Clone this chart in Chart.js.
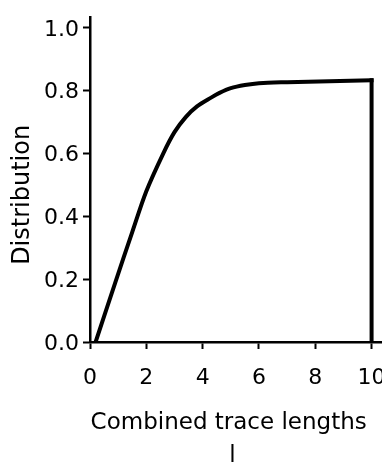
<!DOCTYPE html>
<html>
<head>
<meta charset="utf-8">
<script src="https://cdn.jsdelivr.net/npm/chart.js@4.4.1/dist/chart.umd.min.js"></script>
<style>
  html, body { margin: 0; padding: 0; background: #fff; }
  canvas { display: block; }
</style>
</head>
<body>
<canvas id="distChart" width="382" height="468"></canvas>
<script>
// combined trace length vs. distribution
const traceLength  = [0.2, 0.9, 1.5, 2.0, 2.6, 3.0, 3.4, 3.8, 4.3, 4.6, 5.0, 5.5, 6.0, 7.0, 8.5, 10];
const distribution = [0, 0.19, 0.35, 0.48, 0.60, 0.668, 0.716, 0.75, 0.778, 0.793, 0.808, 0.818, 0.824, 0.827, 0.83, 0.833];
// closing drop at the end of the range
const dropX = [10, 10];
const dropY = [0.833, 0];

const xTicks = [0, 2, 4, 6, 8, 10];
const yTicks = [0, 0.2, 0.4, 0.6, 0.8, 1.0];

const fontFamily = '"DejaVu Sans", sans-serif';

const ctx = document.getElementById('distChart');
const chart = new Chart(ctx, {
    type: 'scatter',
    data: {
        datasets: [{
            data: traceLength.map((x, i) => ({ x: x, y: distribution[i] })),
            showLine: true,
            borderColor: '#000',
            borderWidth: 4,
            pointRadius: 0,
            tension: 0.3,
            borderCapStyle: 'square'
        }, {
            data: dropX.map((x, i) => ({ x: x, y: dropY[i] })),
            showLine: true,
            borderColor: '#000',
            borderWidth: 4,
            pointRadius: 0,
            borderCapStyle: 'square'
        }]
    },
    options: {
        responsive: false,
        animation: false,
        // x title sits a little lower than the scale box allows
        layout: { padding: { top: 10, right: 0, left: 0, bottom: -5 } },
        plugins: {
            legend: { display: false },
            tooltip: { enabled: false }
        },
        scales: {
            x: {
                type: 'linear',
                min: 0,
                max: 10.37,
                afterBuildTicks: (scale) => { scale.ticks = xTicks.map(v => ({ value: v })); },
                afterFit: (scale) => {
                    scale.height = 131;
                    scale.paddingLeft = 0;
                    scale.paddingRight = 0;
                },
                border: { display: true, color: '#000', width: 2.5 },
                grid: { drawOnChartArea: false, drawTicks: true, tickLength: 7, tickWidth: 2, tickColor: '#000' },
                ticks: {
                    color: '#000',
                    padding: 16,
                    font: { family: fontFamily, size: 22 }
                },
                title: {
                    display: true,
                    text: ['Combined trace lengths  ', 'l '],
                    color: '#000',
                    font: { family: fontFamily, size: 23, lineHeight: 1.45 },
                    padding: { top: 4, bottom: 0 }
                }
            },
            y: {
                min: 0,
                max: 1.034,
                afterBuildTicks: (scale) => { scale.ticks = yTicks.map(v => ({ value: v })); },
                afterFit: (scale) => { scale.width = 90; },
                border: { display: true, color: '#000', width: 2.5 },
                grid: { drawOnChartArea: false, drawTicks: true, tickLength: 7, tickWidth: 2, tickColor: '#000' },
                ticks: {
                    color: '#000',
                    padding: 4,
                    labelOffset: 2,
                    font: { family: fontFamily, size: 22 },
                    callback: (value) => value.toFixed(1)
                },
                title: {
                    display: true,
                    text: 'Distribution    ',
                    color: '#000',
                    font: { family: fontFamily, size: 24 },
                    padding: { top: 8, bottom: 0 }
                }
            }
        }
    }
});
</script>
</body>
</html>
